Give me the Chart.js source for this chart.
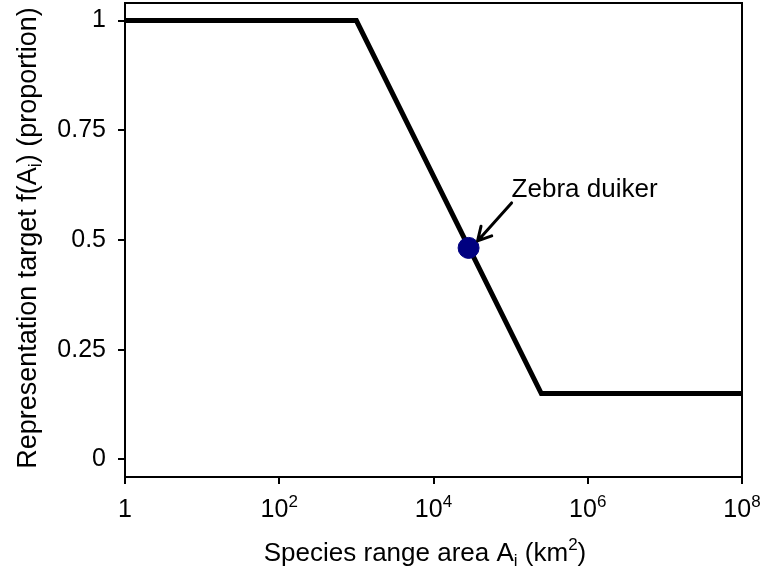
<!DOCTYPE html>
<html>
<head>
<meta charset="utf-8">
<script src="https://cdn.jsdelivr.net/npm/chart.js@4.4.1/dist/chart.umd.min.js"></script>
<style>
  html, body { margin: 0; padding: 0; background: #fff; }
  canvas { display: block; }
</style>
</head>
<body>
<canvas id="chart" width="762" height="573"></canvas>
<script>
"use strict";

// target curve: range area (km2) vs representation target
var areas = [1, 1000, 250000, 1e8];
var targets = [1, 1, 0.15, 0.15];

// highlighted species
var speciesName = "Zebra duiker";
var speciesArea = [28500];
var speciesTarget = [0.482];

var xTickValues = [1, 1e2, 1e4, 1e6, 1e8];
var yTickValues = [0, 0.25, 0.5, 0.75, 1];

var FONT = 'Arial, "Liberation Sans", sans-serif';

function font(size) {
    return size + "px " + FONT;
}

// parts are [text, mode] pairs, mode: "" normal, "sub", "sup"
function richWidth(ctx, parts, size, small) {
    var w = 0;
    parts.forEach(function (p) {
        ctx.font = font(p[1] ? small : size);
        w += ctx.measureText(p[0]).width;
    });
    return w;
}

function richText(ctx, parts, x, y, size, small) {
    var cx = x;
    parts.forEach(function (p) {
        var dy = 0;
        if (p[1] === "sub") dy = size * 0.2;
        if (p[1] === "sup") dy = -size * 0.42;
        ctx.font = font(p[1] ? small : size);
        ctx.fillText(p[0], cx, y + dy);
        cx += ctx.measureText(p[0]).width;
    });
}

var decorPlugin = {
    id: "decor",
    afterDraw: function (chart) {
        var ctx = chart.ctx;
        var area = chart.chartArea;
        var xs = chart.scales.x;
        var ys = chart.scales.y;

        ctx.save();
        // frame
        ctx.strokeStyle = "#000";
        ctx.lineWidth = 2;
        ctx.strokeRect(area.left, area.top, area.right - area.left, area.bottom - area.top);

        ctx.fillStyle = "#000";
        ctx.textBaseline = "alphabetic";
        ctx.textAlign = "left";

        // x tick labels with exponents
        xTickValues.forEach(function (v) {
            var px = xs.getPixelForValue(v);
            var e = Math.round(Math.log10(v));
            var parts = e === 0 ? [["1", ""]] : [["10", ""], [String(e), "sup"]];
            var w = richWidth(ctx, parts, 25, 17);
            richText(ctx, parts, px - w / 2, 517, 25, 17);
        });

        // x title
        var xt = [["Species range area A", ""], ["i", "sub"], [" (km", ""], ["2", "sup"], [")", ""]];
        var xw = richWidth(ctx, xt, 26, 17);
        richText(ctx, xt, 425 - xw / 2, 561, 26, 17);

        // y title
        var yt = [["Representation target f(A", ""], ["i", "sub"], [") (proportion)", ""]];
        var yw = richWidth(ctx, yt, 27, 18);
        ctx.save();
        ctx.translate(36, 238);
        ctx.rotate(-Math.PI / 2);
        richText(ctx, yt, -yw / 2, 0, 27, 18);
        ctx.restore();

        // annotation with arrow
        var px = xs.getPixelForValue(speciesArea[0]);
        var py = ys.getPixelForValue(speciesTarget[0]);
        ctx.font = font(26);
        ctx.fillText(speciesName, px + 43, py - 51);

        var hx = px + 9, hy = py - 7;
        var tx = px + 43, ty = py - 45;
        ctx.lineWidth = 3;
        ctx.lineCap = "round";
        ctx.lineJoin = "round";
        ctx.beginPath();
        ctx.moveTo(tx, ty);
        ctx.lineTo(hx, hy);
        var ang = Math.atan2(ty - hy, tx - hx);
        var len = 15, spread = 0.5;
        ctx.moveTo(hx + len * Math.cos(ang - spread), hy + len * Math.sin(ang - spread));
        ctx.lineTo(hx, hy);
        ctx.lineTo(hx + len * Math.cos(ang + spread), hy + len * Math.sin(ang + spread));
        ctx.stroke();
        ctx.restore();
    }
};

function noEdgePadding(scale) {
    scale.paddingTop = 0;
    scale.paddingBottom = 0;
    scale.paddingLeft = 0;
    scale.paddingRight = 0;
}

var chart = new Chart(document.getElementById("chart"), {
    type: "scatter",
    data: {
        datasets: [{
            data: speciesArea.map(function (a, i) { return { x: a, y: speciesTarget[i] }; }),
            backgroundColor: "#000080",
            borderColor: "#000080",
            pointRadius: 10.5,
            showLine: false,
            order: 1
        }, {
            data: areas.map(function (a, i) { return { x: a, y: targets[i] }; }),
            borderColor: "#000",
            borderWidth: 5,
            pointRadius: 0,
            showLine: true,
            tension: 0,
            clip: false,
            order: 2
        }]
    },
    options: {
        responsive: false,
        animation: false,
        events: [],
        layout: { autoPadding: false, padding: { top: 3, right: 20, left: 0, bottom: 0 } },
        plugins: { legend: { display: false }, tooltip: { enabled: false } },
        scales: {
            x: {
                type: "logarithmic",
                min: 1,
                max: 1e8,
                afterBuildTicks: function (scale) {
                    scale.ticks = xTickValues.map(function (v) { return { value: v }; });
                },
                afterFit: function (scale) {
                    scale.height = 96;
                    noEdgePadding(scale);
                },
                grid: { drawOnChartArea: false, drawTicks: true, tickLength: 7, color: "#000", lineWidth: 2 },
                border: { display: false },
                ticks: { display: false }
            },
            y: {
                min: -0.04,
                max: 1.04,
                afterBuildTicks: function (scale) {
                    scale.ticks = yTickValues.map(function (v) { return { value: v }; });
                },
                afterFit: function (scale) {
                    scale.width = 125;
                    noEdgePadding(scale);
                },
                grid: { drawOnChartArea: false, drawTicks: true, tickLength: 7, color: "#000", lineWidth: 2 },
                border: { display: false },
                ticks: {
                    color: "#000",
                    font: { family: FONT, size: 25 },
                    padding: 12,
                    callback: function (v) { return String(v); }
                }
            }
        }
    },
    plugins: [decorPlugin]
});
</script>
</body>
</html>
